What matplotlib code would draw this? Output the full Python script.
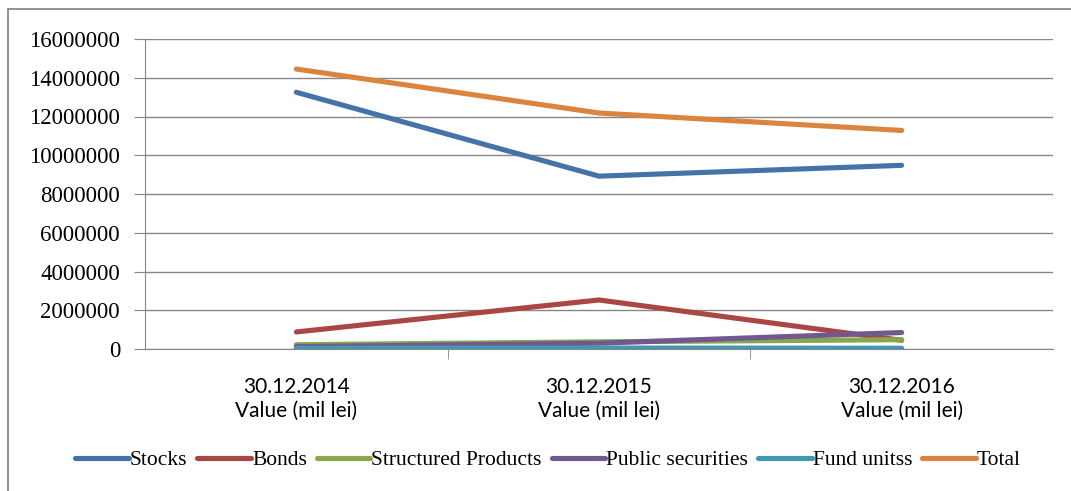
import matplotlib
matplotlib.use("Agg")
import matplotlib.pyplot as plt
import matplotlib.patches as mpatches

# categories and series values
dates = ["30.12.2014", "30.12.2015", "30.12.2016"]
stocks = [13250000, 8920000, 9480000]
bonds = [880000, 2530000, 450000]
structured = [220000, 370000, 480000]
public_sec = [120000, 300000, 850000]
fund_units = [40000, 50000, 40000]
total = [14450000, 12180000, 11280000]

series = [
    ("Stocks", stocks, "#4572A7"),
    ("Bonds", bonds, "#AA4643"),
    ("Structured Products", structured, "#89A54E"),
    ("Public securities", public_sec, "#71588F"),
    ("Fund unitss", fund_units, "#4198AF"),
    ("Total", total, "#DB843D"),
]

fig = plt.figure(figsize=(10.71, 4.91), dpi=100)
ax = fig.add_axes([145 / 1071, 1 - 349 / 491, (1053 - 145) / 1071, (349 - 39) / 491])

x = list(range(len(dates)))
for name, vals, color in series:
    ax.plot(x, vals, color=color, lw=3.7, solid_capstyle="round",
            solid_joinstyle="round", label=name)

ax.set_xlim(-0.5, 2.5)
ax.set_ylim(0, 16000000)
ax.set_yticks(range(0, 16000001, 2000000))
ax.set_yticklabels([str(v) for v in range(0, 16000001, 2000000)],
                   family="Liberation Serif", fontsize=16.5)
ax.set_xticks(x)
ax.set_xticklabels([f"{d}\nValue (mil lei)" for d in dates], family="Lato",
                   fontsize=15, linespacing=1.25)
ax.set_xticks([0.5, 1.5], minor=True)
ax.tick_params(axis="x", which="major", length=0, pad=20)
ax.tick_params(axis="x", which="minor", length=7, color="#868686")
ax.tick_params(axis="y", length=8, color="#868686", pad=10)

ax.yaxis.grid(True, color="#868686", lw=1)
ax.set_axisbelow(True)
for s in ["top", "right"]:
    ax.spines[s].set_visible(False)
for s in ["left", "bottom"]:
    ax.spines[s].set_color("#868686")

fig.legend(loc="center", bbox_to_anchor=(548 / 1071, 1 - 460 / 491), ncol=6,
           frameon=False, prop={"family": "Liberation Serif", "size": 15.5},
           handlelength=2.5, handletextpad=0.05, columnspacing=0.45)

# outer frame
fig.patches.append(mpatches.Rectangle((8 / 1071, -0.05), 1.1, 1 - 9 / 491 + 0.05,
                                      transform=fig.transFigure, fill=False,
                                      edgecolor="#7f7f7f", lw=1.2))

fig.savefig("out.png", dpi=100)
